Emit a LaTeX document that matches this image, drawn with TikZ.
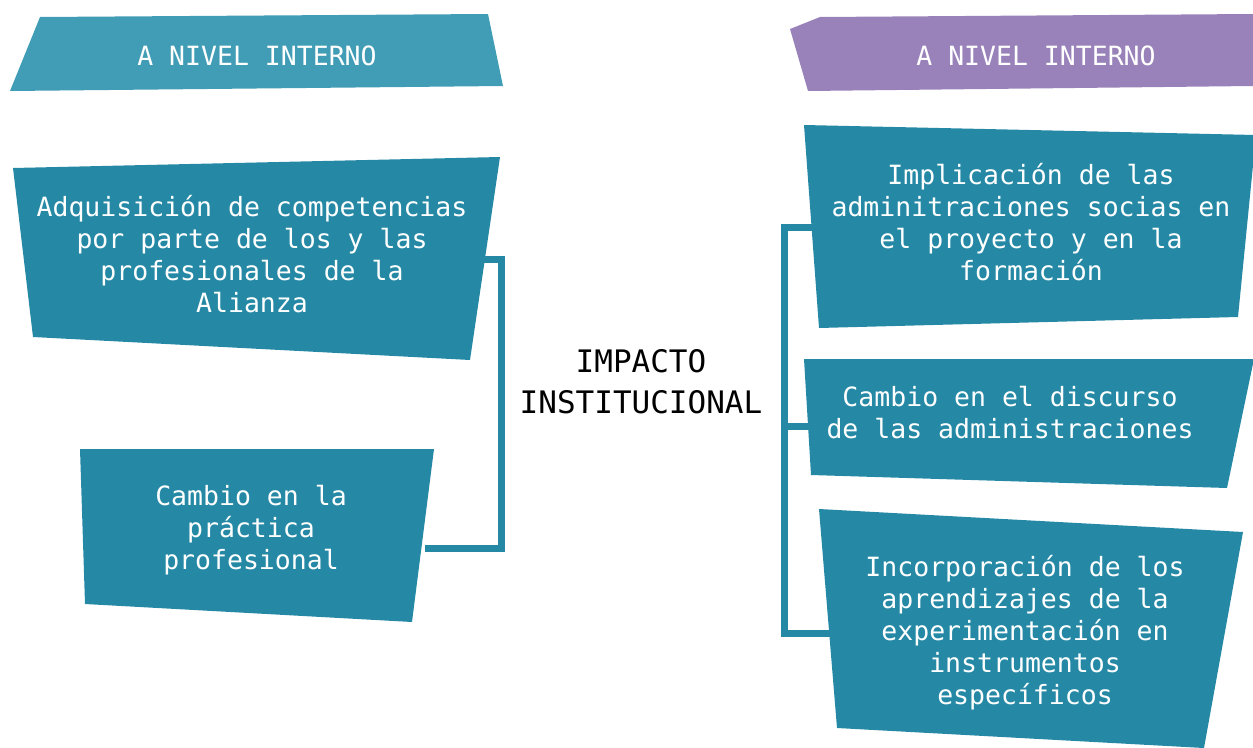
\documentclass[tikz,border=0pt]{standalone}
\usepackage{fontspec}
\setmonofont{DejaVu Sans Mono}
\definecolor{teal1}{HTML}{2589A5}
\definecolor{tealhead}{HTML}{419DB6}
\definecolor{purphead}{HTML}{9982BA}
\tikzset{
  boxtext/.style={text=white, align=center, font=\ttfamily\fontsize{26.5}{32}\selectfont, inner sep=0pt},
  headtext/.style={text=white, align=center, font=\ttfamily\fontsize{26.5}{32}\selectfont, inner sep=0pt},
  centertext/.style={text=black, align=center, font=\ttfamily\fontsize{31}{41}\selectfont, inner sep=0pt},
  conn/.style={draw=teal1, line width=7pt, line join=miter, line cap=butt},
  shapefill/.style={fill=teal1}
}
\begin{document}
\begin{tikzpicture}[x=1pt,y=-1pt]
\useasboundingbox (0,0) rectangle (1253,747);
% connectors (behind boxes)
\coordinate (l1) at (480,259);
\coordinate (l2) at (425,548.5);
\coordinate (ltrunk) at (501,259);
\draw[conn] (l1) -- (ltrunk) |- (l2);
\coordinate (r1) at (815,227);
\coordinate (r2) at (815,426);
\coordinate (r3) at (835,633);
\coordinate (rtop) at (784,227);
\coordinate (rmid) at (784,426);
\coordinate (rbot) at (784,633);
\draw[conn] (r1) -- (rtop) -- (rbot) -- (r3);
\draw[conn] (rmid) -- (r2);
% headers
\fill[tealhead] (40,17) -- (488,14) -- (503,86) -- (10,91) -- cycle;
\fill[purphead] (820,17) -- (790,29) -- (808,91) -- (1253,86) -- (1253,14) -- cycle;
% boxes
\fill[shapefill] (13,168) -- (500,157) -- (470,360) -- (33,337) -- cycle;
\fill[shapefill] (80,449) -- (434,449) -- (412,622) -- (85,604) -- cycle;
\fill[shapefill] (804,125) -- (1256,135) -- (1238,317) -- (819,328) -- cycle;
\fill[shapefill] (804,359) -- (1254,359) -- (1227,488) -- (811,475) -- cycle;
\fill[shapefill] (819,509) -- (1243,532) -- (1204,748) -- (837,728) -- cycle;
% texts
\node[headtext] (hl) at (257,56) {A NIVEL INTERNO};
\node[headtext] (hr) at (1036,56) {A NIVEL INTERNO};
\node[boxtext] (b1) at (252,254) {Adquisición de competencias\\por parte de los y las\\profesionales de la\\Alianza};
\node[boxtext] (b2) at (251,530) {Cambio en la\\práctica\\profesional};
\node[boxtext] (b3) at (1031,222) {Implicación de las\\adminitraciones socias en\\el proyecto y en la\\formación};
\node[boxtext] (b4) at (1010,413) {Cambio en el discurso\\de las administraciones};
\node[boxtext] (b5) at (1025,633) {Incorporación de los\\aprendizajes de la\\experimentación en\\instrumentos\\específicos};
\node[centertext] (c) at (641,382) {IMPACTO\\INSTITUCIONAL};
\end{tikzpicture}
\end{document}
